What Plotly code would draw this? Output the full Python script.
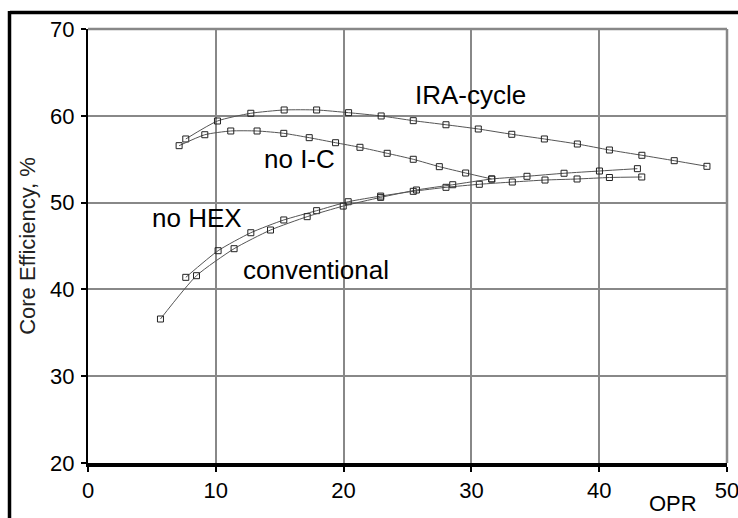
import plotly.graph_objects as go

# ---- data ----
ira_x = [7.65, 10.13, 12.74, 15.35, 17.89, 20.39, 22.94, 25.45, 28.01, 30.54, 33.16, 35.71, 38.29, 40.8, 43.34, 45.87, 48.43]
ira_y = [57.33, 59.4, 60.29, 60.67, 60.67, 60.36, 59.98, 59.44, 58.97, 58.48, 57.87, 57.33, 56.75, 56.06, 55.45, 54.83, 54.18]

noic_x = [7.13, 9.14, 11.17, 13.23, 15.32, 17.31, 19.37, 21.28, 23.41, 25.45, 27.49, 29.55, 31.59]
noic_y = [56.56, 57.82, 58.25, 58.25, 57.98, 57.48, 56.9, 56.37, 55.68, 54.99, 54.14, 53.41, 52.72]

nohex_x = [7.65, 10.18, 12.74, 15.32, 17.89, 20.36, 22.9, 25.45, 28.01, 30.62, 33.2, 35.76, 38.27, 40.8, 43.33]
nohex_y = [41.39, 44.46, 46.53, 48.0, 49.07, 50.1, 50.75, 51.3, 51.76, 52.11, 52.37, 52.6, 52.72, 52.89, 52.95]

conv_x = [5.67, 8.49, 11.43, 14.28, 17.15, 19.97, 22.9, 25.7, 28.54, 31.59, 34.35, 37.25, 40.02, 42.99]
conv_y = [36.59, 41.58, 44.69, 46.84, 48.38, 49.6, 50.6, 51.45, 52.06, 52.72, 53.03, 53.38, 53.64, 53.91]

x_ticks = [0, 10, 20, 30, 40, 50]
y_ticks = [20, 30, 40, 50, 60, 70]

labels = [
    ("IRA-cycle", 25.4, 62.4),
    ("no I-C", 13.58, 55.0),
    ("no HEX", 4.89, 48.23),
    ("conventional", 12.01, 42.24),
]

FONT = "Liberation Sans, Arial, sans-serif"

fig = go.Figure()
for xs, ys, nm in [(ira_x, ira_y, "IRA-cycle"), (noic_x, noic_y, "no I-C"),
                   (nohex_x, nohex_y, "no HEX"), (conv_x, conv_y, "conventional")]:
    fig.add_trace(go.Scatter(
        x=xs, y=ys, name=nm, mode="lines+markers",
        line=dict(color="#555555", width=1, shape="spline", smoothing=0.6),
        marker=dict(symbol="square-open", size=6, color="#222222", line=dict(width=1, color="#222222")),
        showlegend=False,
    ))

for txt, lx, ly in labels:
    fig.add_annotation(x=lx, y=ly, text=txt, showarrow=False, xanchor="left", yanchor="middle",
                       font=dict(family=FONT, size=26, color="black"))

# OPR axis title at bottom right
fig.add_annotation(x=0.915, y=-0.093, xref="paper", yref="paper", text="OPR", showarrow=False,
                   xanchor="center", yanchor="middle", font=dict(family=FONT, size=22, color="black"))

# plot-area top/right gray borders
fig.add_shape(type="line", xref="paper", yref="paper", x0=0, x1=1, y0=1, y1=1,
              line=dict(color="#888888", width=2.5))
fig.add_shape(type="line", xref="paper", yref="paper", x0=1, x1=1, y0=0, y1=1,
              line=dict(color="#888888", width=2.5))

# outer black frame (top and left)
fig.add_shape(type="line", xref="paper", yref="paper", x0=(10 - 88) / 639, x1=(740 - 88) / 639,
              y0=(463 - 12.5) / 434, y1=(463 - 12.5) / 434, line=dict(color="black", width=3.5))
fig.add_shape(type="line", xref="paper", yref="paper", x0=(9.5 - 88) / 639, x1=(9.5 - 88) / 639,
              y0=(463 - 11) / 434, y1=(463 - 520) / 434, line=dict(color="black", width=3.5))

fig.update_layout(
    width=738, height=518,
    margin=dict(l=88, r=11, t=29, b=55),
    paper_bgcolor="white", plot_bgcolor="white",
    font=dict(family=FONT, color="black"),
    xaxis=dict(range=[0, 50], tickvals=x_ticks, showgrid=True, gridcolor="#888888", gridwidth=2.3,
               showline=True, linecolor="black", linewidth=3.5, ticks="outside", ticklen=5,
               tickcolor="black", tickwidth=1.5, zeroline=False, tickfont=dict(size=22, family=FONT),
               ticklabelstandoff=0, ticklabeloverflow="allow", automargin=False),
    yaxis=dict(range=[20, 70], tickvals=y_ticks, showgrid=True, gridcolor="#888888", gridwidth=2.3,
               showline=True, linecolor="black", linewidth=2, ticks="outside", ticklen=5,
               tickcolor="black", tickwidth=1.5, zeroline=False, tickfont=dict(size=22, family=FONT),
               ticklabelstandoff=2, ticklabeloverflow="allow", automargin=False,
               title=dict(text="Core Efficiency, %", font=dict(size=22, family=FONT, color="#222222"),
                          standoff=8)),
)

fig.write_html("out.html", config={"displayModeBar": False},
               post_script="document.body.style.margin='0';document.body.style.overflow='hidden';")
